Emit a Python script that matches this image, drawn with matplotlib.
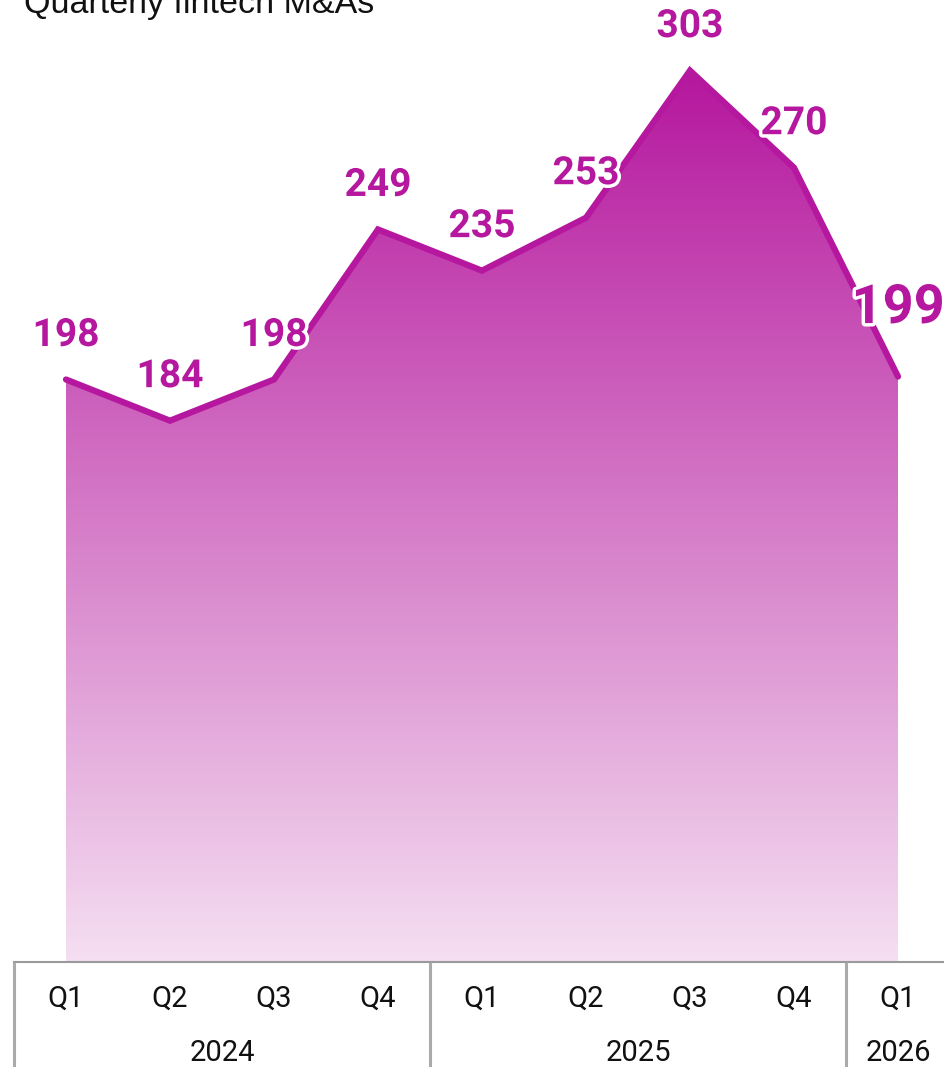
import numpy as np
import matplotlib
matplotlib.use("Agg")
import matplotlib.pyplot as plt
from matplotlib import patheffects as pe
from matplotlib.patches import Polygon
from matplotlib.transforms import blended_transform_factory

quarters = ["Q1", "Q2", "Q3", "Q4", "Q1", "Q2", "Q3", "Q4", "Q1"]
years = ["2024", "2025", "2026"]
year_quarter_counts = [4, 4, 1]
values = [198, 184, 198, 249, 235, 253, 303, 270, 199]
title = "Quarterly fintech M&As"

W, H = 944, 1067
DPI = 100
LINE = "#B5179E"

fig = plt.figure(figsize=(W / DPI, H / DPI), dpi=DPI)
fig.patch.set_facecolor("white")

# axes: x from 14px to 950px, y baseline at 962px from top
left_px, right_px = 14, 950
base_px = 962
ax = fig.add_axes([left_px / W, (H - base_px) / H, (right_px - left_px) / W, base_px / H])
ax.set_xlim(-0.5, len(values) - 0.5)
ax.set_ylim(0, 327)
ax.axis("off")

x = np.arange(len(values))
vmax = max(values)

# gradient fill clipped to area polygon
verts = [(x[0], 0)] + list(zip(x, values)) + [(x[-1], 0)]
poly = Polygon(verts, closed=True, facecolor="none", edgecolor="none")
ax.add_patch(poly)
n = 256
alpha = np.linspace(0.14, 1.0, n)[:, None]
r, g, b = matplotlib.colors.to_rgb(LINE)
img = np.ones((n, 2, 3))
img[:, :, 0] = 1 - alpha * (1 - r)
img[:, :, 1] = 1 - alpha * (1 - g)
img[:, :, 2] = 1 - alpha * (1 - b)
im = ax.imshow(img, extent=[x[0], x[-1], 0, vmax], origin="lower", aspect="auto",
               interpolation="bilinear", zorder=1)
im.set_clip_path(poly)
ax.set_xlim(-0.5, len(values) - 0.5)
ax.set_ylim(0, 327)

ax.plot(x, values, color=LINE, lw=4.5, solid_joinstyle="miter", solid_capstyle="round", zorder=3)

halo = [pe.withStroke(linewidth=5, foreground="white")]
for i, v in enumerate(values):
    last = i == len(values) - 1
    size = 39 if last else 28
    off = 68 / 2.942 if last else 44 / 2.942
    ax.text(x[i], v + off, str(v), ha="center", va="center", fontsize=size,
            fontfamily="Roboto", fontweight="bold", color=LINE, zorder=5,
            path_effects=halo, clip_on=False)

# x-axis baseline and group separators
trans = blended_transform_factory(ax.transData, ax.transAxes)
ax.plot([-0.5, len(values) - 0.5], [0, 0], transform=trans, color="#9a9a9a", lw=1.5,
        clip_on=False, zorder=4)
bottom_ax = -(H - base_px) / base_px - 0.01
pos = -0.5
seps = [pos]
for c in year_quarter_counts:
    pos += c
    seps.append(pos)
for s in seps:
    ax.plot([s, s], [0, bottom_ax], transform=trans, color="#aaaaaa", lw=2.2,
            clip_on=False, zorder=4, solid_capstyle="butt")

q_y = -(999 - base_px) / base_px
y_y = -(1053 - base_px) / base_px
for i, q in enumerate(quarters):
    ax.text(x[i], q_y, q, transform=trans, ha="center", va="center", fontsize=21,
            fontfamily="Roboto", color="#111111", clip_on=False)
start = -0.5
for yr, c in zip(years, year_quarter_counts):
    ax.text(start + c / 2, y_y, yr, transform=trans, ha="center", va="center",
            fontsize=21, fontfamily="Roboto", color="#111111", clip_on=False)
    start += c

fig.text(24 / W, 1 - 13 / H, title, ha="left", va="baseline", fontsize=24.5,
         fontfamily="Liberation Sans", color="#111111")

fig.savefig("out.png", dpi=DPI, facecolor="white")
